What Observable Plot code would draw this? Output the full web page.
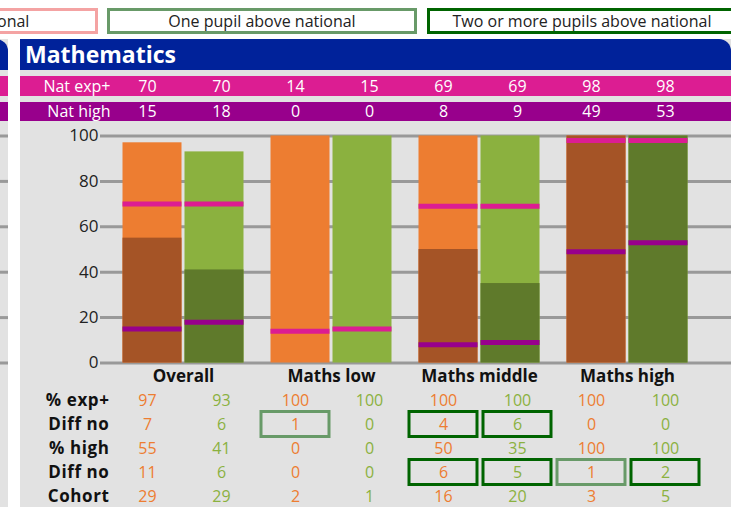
<!DOCTYPE html>
<html><head><meta charset="utf-8">
<script src="https://cdn.jsdelivr.net/npm/d3@7"></script>
<script src="https://cdn.jsdelivr.net/npm/@observablehq/plot@0.6"></script>
<style>
html,body{margin:0;padding:0;}
body{width:731px;height:507px;overflow:hidden;position:relative;background:#fff;font-family:"Open Sans",sans-serif;}
.abs{position:absolute;}
.legend{position:absolute;top:8px;height:26px;width:310px;box-sizing:border-box;border:3px solid;background:#fff;font-size:16px;line-height:20px;text-align:center;color:#222;white-space:nowrap;}
.panel{position:absolute;top:39px;height:468px;background:#e2e2e2;}
.header{position:absolute;top:39px;height:31px;background:#00229a;border-top-right-radius:12px;color:#fff;font-weight:bold;font-size:23px;line-height:23px;box-sizing:border-box;padding-left:5px;white-space:nowrap;}
.band{position:absolute;height:19.5px;}
.tbl [aria-label="y-axis tick label"]{letter-spacing:0.6px;}
</style></head><body>
<script>
// ---- data ----
const groups = ["Overall", "Maths low", "Maths middle", "Maths high"];
const seriesKeys = ["A", "B"];
const natExpPlus = [70, 70, 14, 15, 69, 69, 98, 98];
const natHigh    = [15, 18, 0, 0, 8, 9, 49, 53];
const pctExpPlus = [97, 93, 100, 100, 100, 100, 100, 100];
const diffNoExp  = [7, 6, 1, 0, 4, 6, 0, 0];
const pctHigh    = [55, 41, 0, 0, 50, 35, 100, 100];
const diffNoHigh = [11, 6, 0, 0, 6, 5, 1, 2];
const cohort     = [29, 29, 2, 1, 16, 20, 3, 5];
const flagExp    = [0, 0, 1, 0, 2, 2, 0, 0];   // 1 = one pupil above, 2 = two or more above
const flagHigh   = [0, 0, 0, 0, 2, 2, 1, 2];
const rowKeys    = ["exp", "diffExp", "high", "diffHigh", "cohort"];
const rowLabels  = ["% exp+", "Diff no", "% high", "Diff no", "Cohort"];
const bandLabels = ["Nat exp+", "Nat high"];
const yTicks     = [0, 20, 40, 60, 80, 100];
const legendLabels = ["One pupil below national", "One pupil above national", "Two or more pupils above national"];
const subject = "Mathematics";

// ---- styles ----
const light = {A: "#ED7D31", B: "#8BB13F"};
const dark  = {A: "#A55426", B: "#5F7A2B"};
const pink = "#DC1D92", purple = "#98008C";
const legendColors = ["#F4A3A3", "#689A68", "#006400"];
const font = '"Open Sans", sans-serif';

const cols = groups.flatMap(g => seriesKeys.map(s => g + "|" + s));
const rec = cols.map((c, i) => ({
  col: c, group: groups[Math.floor(i / 2)], series: seriesKeys[i % 2],
  natExp: natExpPlus[i], natHigh: natHigh[i], exp: pctExpPlus[i], high: pctHigh[i],
  diffExp: diffNoExp[i], diffHigh: diffNoHigh[i], cohort: cohort[i],
  flagExp: flagExp[i], flagHigh: flagHigh[i]
}));

function el(cls, css, html) {
  const d = document.createElement("div");
  d.className = cls;
  Object.assign(d.style, css);
  if (html != null) d.textContent = html;
  document.body.appendChild(d);
  return d;
}
function place(node, left, top) {
  node.style.position = "absolute";
  node.style.left = left + "px";
  node.style.top = top + "px";
  document.body.appendChild(node);
}

// legends
const legendLefts = [-226, 107, 427];
legendLabels.forEach((t, i) => el("legend", {left: legendLefts[i] + "px", borderColor: legendColors[i], width: (i === 0 ? 324 : 310) + "px"}, t));

// left (cut-off) panel
el("panel", {left: "-60px", width: "68px"});
el("header", {left: "-60px", width: "68px"});
el("band", {left: "0px", width: "8px", top: "76px", background: pink});
el("band", {left: "0px", width: "8px", top: "101.5px", background: purple});

// main panel
el("panel", {left: "20px", width: "711px"});
el("header", {left: "20px", width: "711px", paddingTop: "4px"}, subject);
el("band", {left: "20px", width: "711px", top: "76px", background: pink});
el("band", {left: "20px", width: "711px", top: "101.5px", background: purple});

// stub gridlines for left panel
place(Plot.plot({
  width: 8, height: 266, marginLeft: 0, marginRight: 0, marginTop: 13.5, marginBottom: 25.5,
  y: {domain: [0, 100], axis: null},
  style: {background: "transparent", overflow: "visible"},
  marks: [Plot.ruleY(yTicks, {stroke: "#999", strokeWidth: 3})]
}), 0, 122);

// national bands
const bandData = rec.flatMap(r => [
  {col: r.col, row: bandLabels[0], v: r.natExp},
  {col: r.col, row: bandLabels[1], v: r.natHigh}
]);
place(Plot.plot({
  width: 711, height: 45, marginLeft: 90, marginRight: 29, marginTop: 0, marginBottom: 0,
  x: {type: "band", domain: cols, padding: 0, axis: null},
  y: {type: "band", domain: bandLabels, paddingInner: 0.24, paddingOuter: 0, tickSize: 0, tickPadding: 0, label: null},
  style: {background: "transparent", color: "white", fontSize: "16px", fontFamily: font, overflow: "visible"},
  marks: [Plot.text(bandData, {x: "col", y: "row", text: d => String(d.v), fill: "white", fontSize: 16})]
}), 20, 76);

// chart
const insets = {A: {insetLeft: 13.5, insetRight: 75.5}, B: {insetLeft: 75.5, insetRight: 13.5}};
const marks = [Plot.ruleY(yTicks, {stroke: "#999", strokeWidth: 3})];
for (const s of seriesKeys) {
  const d = rec.filter(r => r.series === s);
  marks.push(Plot.barY(d.filter(r => r.exp > 0), {x: "group", y: "exp", fill: light[s], ...insets[s]}));
  marks.push(Plot.barY(d.filter(r => r.high > 0), {x: "group", y: "high", fill: dark[s], ...insets[s]}));
  marks.push(Plot.tickY(d.filter(r => r.natExp > 0), {x: "group", y: "natExp", stroke: pink, strokeWidth: 5, ...insets[s]}));
  marks.push(Plot.tickY(d.filter(r => r.natHigh > 0), {x: "group", y: "natHigh", stroke: purple, strokeWidth: 5, ...insets[s]}));
}
marks.push(Plot.text(groups, {x: d => d, frameAnchor: "bottom", dy: 18.5, text: d => d, fontWeight: "bold", fontSize: 17, fill: "#111"}));
place(Plot.plot({
  width: 711, height: 266, marginLeft: 80, marginRight: 0, marginTop: 13.5, marginBottom: 25.5,
  x: {type: "band", domain: groups, range: [88.5, 680.5], padding: 0, axis: null},
  y: {domain: [0, 100], ticks: yTicks, tickSize: 0, tickPadding: 2, label: null},
  style: {background: "transparent", color: "#222", fontSize: "17px", fontFamily: font, overflow: "visible"},
  marks
}), 20, 122);

// table
const tblData = rec.flatMap(r => rowKeys.map(k => ({col: r.col, row: k, v: r[k], series: r.series})));
const boxes = rec.flatMap(r => [
  {col: r.col, row: "diffExp", flag: r.flagExp},
  {col: r.col, row: "diffHigh", flag: r.flagHigh}
]).filter(b => b.flag > 0);
const boxOpts = {x: "col", y: "row", fill: "none", strokeWidth: 3, insetLeft: 3, insetRight: 3, insetTop: -0.5, insetBottom: -0.5};
place(Plot.plot({
  className: "tbl",
  width: 711, height: 120, marginLeft: 90, marginRight: 29, marginTop: 0, marginBottom: 0,
  x: {type: "band", domain: cols, padding: 0, axis: null},
  y: {type: "band", domain: rowKeys, padding: 0, tickSize: 0, tickPadding: 1, label: null,
      tickFormat: k => rowLabels[rowKeys.indexOf(k)]},
  style: {background: "transparent", color: "#111", fontSize: "17px", fontWeight: "bold", fontFamily: font, overflow: "visible"},
  marks: [
    Plot.cell(boxes.filter(b => b.flag === 1), {...boxOpts, stroke: legendColors[1]}),
    Plot.cell(boxes.filter(b => b.flag === 2), {...boxOpts, stroke: legendColors[2]}),
    Plot.text(tblData.filter(d => d.series === "A"), {x: "col", y: "row", text: d => String(d.v), fill: light.A, fontSize: 16, fontWeight: "normal"}),
    Plot.text(tblData.filter(d => d.series === "B"), {x: "col", y: "row", text: d => String(d.v), fill: light.B, fontSize: 16, fontWeight: "normal"})
  ]
}), 20, 388);
</script>
</body></html>
